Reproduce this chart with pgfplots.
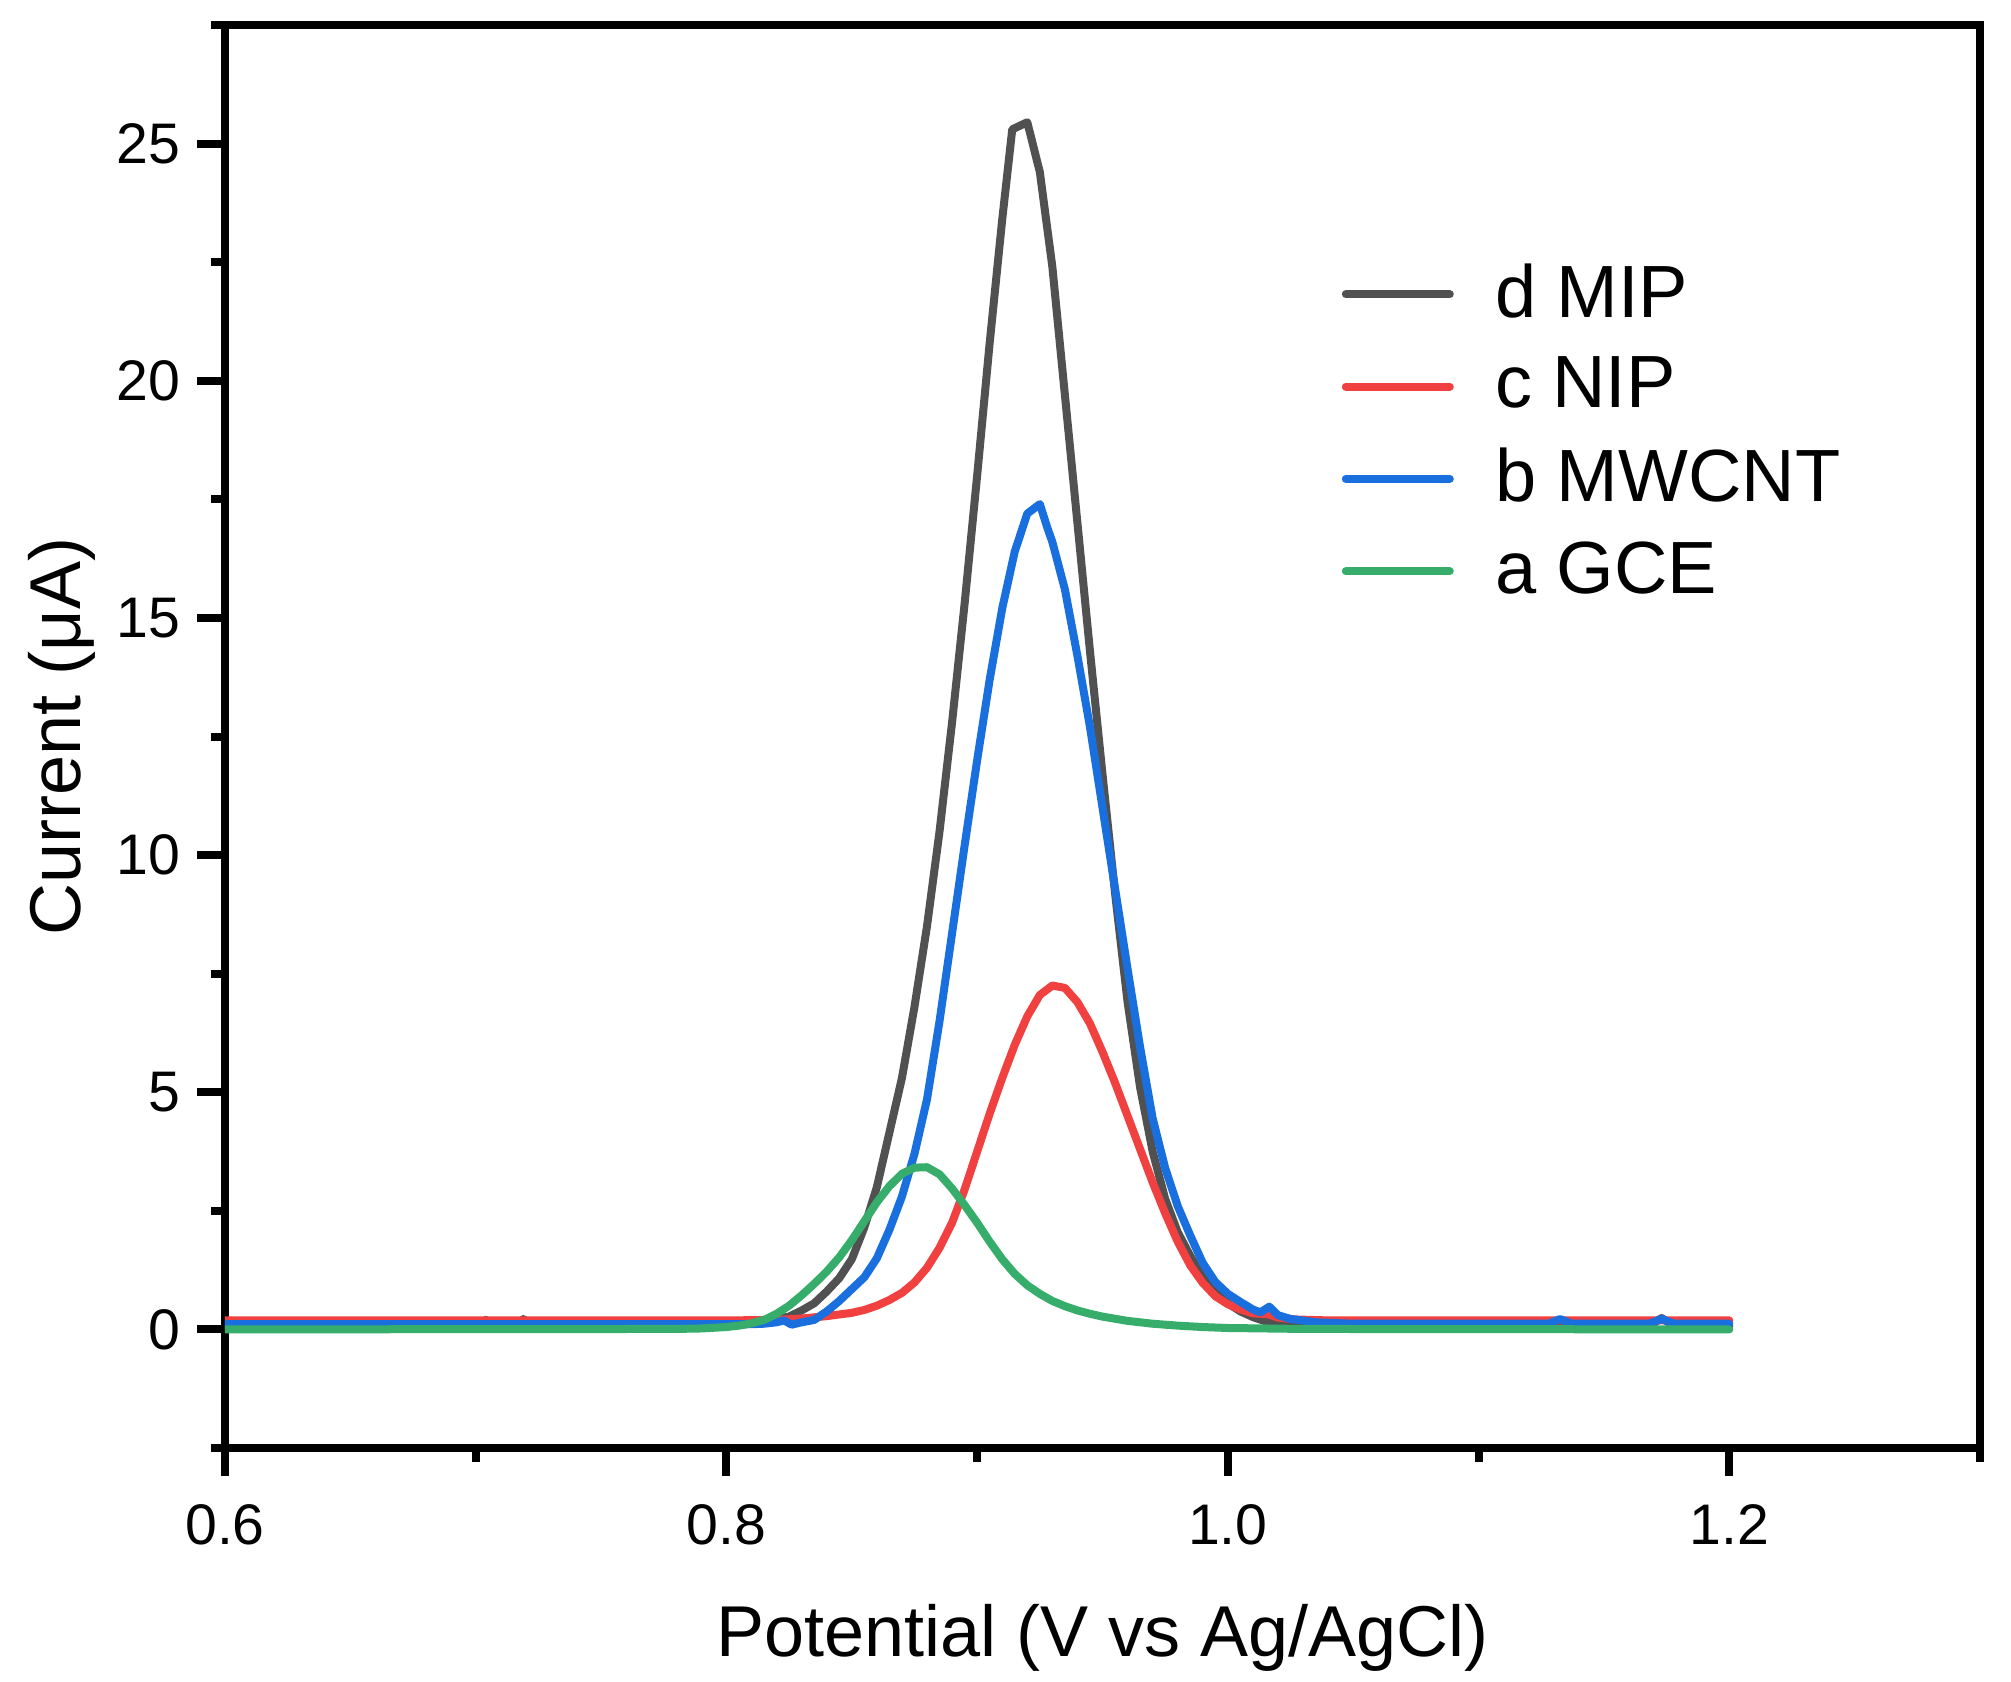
\documentclass[border=0pt]{standalone}
\usepackage{fontspec}
\setmainfont{Liberation Sans}
\usepackage{pgfplots}
\usepackage{pgfplotstable}
\pgfplotsset{compat=1.18}

\definecolor{cMIP}{HTML}{515151}
\definecolor{cNIP}{HTML}{F14040}
\definecolor{cCNT}{HTML}{1A6FDF}
\definecolor{cGCE}{HTML}{37AD6B}

% d MIP
\pgfplotstableread{
x y
0.600 0.06
0.700 0.06
0.704 0.20
0.708 0.06
0.716 0.06
0.719 0.22
0.722 0.06
0.780 0.06
0.800 0.07
0.810 0.12
0.820 0.22
0.825 0.27
0.830 0.40
0.835 0.55
0.840 0.80
0.845 1.08
0.850 1.48
0.855 2.15
0.860 3.00
0.865 4.15
0.870 5.30
0.875 6.80
0.880 8.50
0.885 10.50
0.890 12.80
0.895 15.30
0.900 18.00
0.905 20.80
0.910 23.40
0.914 25.30
0.920 25.45
0.925 24.40
0.930 22.40
0.935 19.70
0.940 17.00
0.945 14.30
0.950 11.70
0.955 9.20
0.960 6.90
0.965 5.10
0.970 3.75
0.975 2.75
0.980 2.05
0.985 1.55
0.990 1.10
0.995 0.78
1.000 0.55
1.005 0.38
1.010 0.26
1.015 0.17
1.020 0.12
1.030 0.08
1.060 0.07
1.063 0.11
1.066 0.07
1.168 0.07
1.173 0.24
1.178 0.07
1.200 0.07
}\tabMIP

% c NIP
\pgfplotstableread{
x y
0.600 0.19
0.800 0.19
0.820 0.20
0.830 0.23
0.840 0.28
0.850 0.35
0.855 0.41
0.860 0.50
0.865 0.62
0.870 0.77
0.875 0.99
0.880 1.30
0.885 1.72
0.890 2.25
0.895 2.95
0.900 3.75
0.905 4.55
0.910 5.30
0.915 6.00
0.920 6.60
0.925 7.05
0.930 7.25
0.935 7.20
0.940 6.90
0.945 6.45
0.950 5.85
0.955 5.20
0.960 4.50
0.965 3.80
0.970 3.10
0.975 2.45
0.980 1.85
0.985 1.35
0.990 0.98
0.995 0.70
1.000 0.53
1.005 0.42
1.010 0.34
1.016 0.32
1.020 0.25
1.027 0.21
1.040 0.19
1.200 0.19
}\tabNIP

% b MWCNT
\pgfplotstableread{
x y
0.600 0.11
0.810 0.11
0.815 0.12
0.820 0.15
0.823 0.19
0.826 0.10
0.830 0.15
0.835 0.20
0.840 0.38
0.845 0.60
0.850 0.85
0.855 1.10
0.860 1.50
0.865 2.10
0.870 2.80
0.875 3.70
0.880 4.85
0.885 6.50
0.890 8.35
0.895 10.20
0.900 12.00
0.905 13.70
0.910 15.20
0.915 16.40
0.920 17.20
0.925 17.40
0.928 16.90
0.930 16.60
0.935 15.60
0.940 14.20
0.945 12.70
0.950 11.00
0.955 9.30
0.960 7.60
0.965 5.95
0.970 4.45
0.975 3.40
0.980 2.60
0.985 1.98
0.990 1.40
0.995 1.00
1.000 0.75
1.005 0.58
1.010 0.42
1.013 0.36
1.0165 0.48
1.020 0.30
1.025 0.22
1.035 0.15
1.050 0.12
1.128 0.12
1.1325 0.22
1.137 0.12
1.168 0.12
1.173 0.22
1.178 0.12
1.200 0.12
}\tabCNT

% a GCE
\pgfplotstableread{
x y
0.600 0.00
0.780 0.01
0.790 0.02
0.800 0.05
0.805 0.08
0.810 0.13
0.815 0.20
0.820 0.33
0.825 0.50
0.830 0.72
0.835 0.96
0.840 1.22
0.845 1.52
0.850 1.88
0.855 2.28
0.860 2.68
0.865 3.02
0.870 3.28
0.875 3.41
0.880 3.42
0.885 3.27
0.890 2.97
0.895 2.62
0.900 2.25
0.905 1.85
0.910 1.48
0.915 1.17
0.920 0.93
0.925 0.75
0.930 0.60
0.935 0.49
0.940 0.40
0.945 0.33
0.950 0.27
0.960 0.18
0.970 0.12
0.980 0.08
0.990 0.05
1.000 0.03
1.030 0.01
1.200 0.00
}\tabGCE

\begin{document}
\begin{tikzpicture}
\begin{axis}[
    name=ax,
    scale only axis,
    width=438.75pt, height=355.75pt,
    xmin=0.6, xmax=1.3,
    ymin=-2.5, ymax=27.5,
    xtick={0.6,0.8,1.0,1.2},
    minor xtick={0.7,0.9,1.1,1.3},
    ytick={0,5,10,15,20,25},
    minor ytick={-2.5,2.5,7.5,12.5,17.5,22.5,27.5},
    tick pos=left,
    tick align=outside,
    major tick length=7pt,
    minor tick length=3.5pt,
    tick style={line width=2pt, black},
    axis line style={line width=2pt},
    /pgf/number format/assume math mode=true,
    ticklabel style={font=\fontsize{14.3}{17}\selectfont, inner sep=0pt},
    xticklabel style={/pgf/number format/fixed, /pgf/number format/fixed zerofill,
        /pgf/number format/precision=1, yshift=-7pt},
    yticklabel style={xshift=-4pt},
    xlabel={Potential (V vs Ag/AgCl)},
    ylabel={Current (μA)},
    label style={font=\fontsize{18}{21}\selectfont},
    xlabel style={at={(axis description cs:0.5,-0.14687)}, anchor=base},
    ylabel style={at={(axis description cs:-0.0826,0.5)}, anchor=base},
    legend cell align=left,
    legend image code/.code={\draw[#1] (0pt,-1pt) -- (26pt,-1pt);},
    legend style={draw=none, fill=none, font=\fontsize{18.5}{22}\selectfont,
        at={(axis description cs:0.6359,0.833)}, anchor=north west,
        inner sep=0pt, row sep=10pt,
        nodes={inner sep=0pt, text depth=0pt},
        /tikz/every odd column/.append style={column sep=10.3pt}},
    every axis plot/.append style={line width=2pt, line join=round, line cap=round},
]
\addplot[cMIP] table[x=x,y=y] {\tabMIP};
\addlegendentry{d MIP}
\addplot[cNIP] table[x=x,y=y] {\tabNIP};
\addlegendentry{c NIP}
\addplot[cCNT] table[x=x,y=y] {\tabCNT};
\addlegendentry{b MWCNT}
\addplot[cGCE] table[x=x,y=y] {\tabGCE};
\addlegendentry{a GCE}
\end{axis}
\pgfresetboundingbox
\path ([shift={(-56.25pt,-58.25pt)}]ax.south west) rectangle ([shift={(7.75pt,6.25pt)}]ax.north east);
\end{tikzpicture}
\end{document}
